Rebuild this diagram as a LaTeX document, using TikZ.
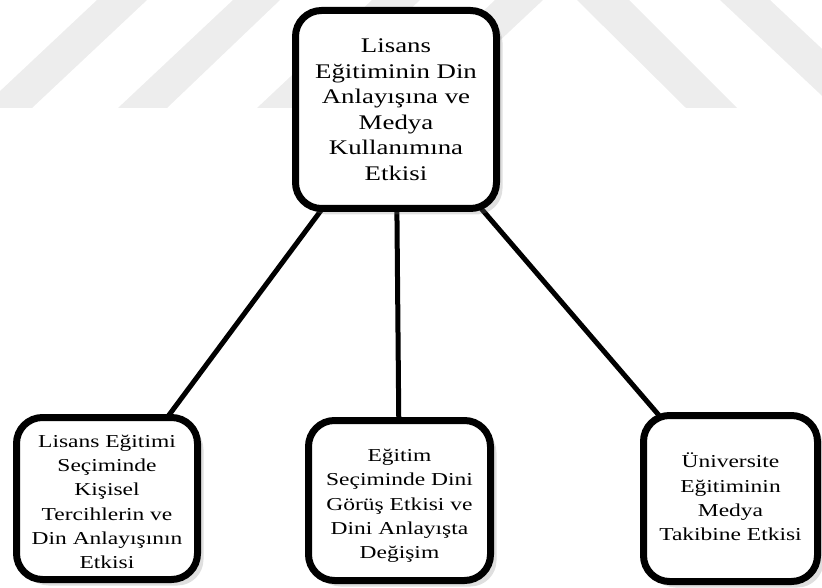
\documentclass[tikz,border=0pt]{standalone}
\usepackage{fontspec}
\newfontfamily\boxfont[FakeStretch=1.29]{Liberation Serif}
\usetikzlibrary{shadows,backgrounds}
\begin{document}
\begin{tikzpicture}[x=1pt,y=-1pt,
  box/.style={draw=black, line width=7pt, rounded corners=26pt, fill=white,
    inner sep=0pt, align=center,
    drop shadow={shadow xshift=6pt, shadow yshift=-6pt, opacity=0.25}},
  topfont/.style={font=\boxfont\fontsize{20.8}{25.5}\selectfont},
  subfont/.style={font=\boxfont\fontsize{18.2}{24.3}\selectfont},
  link/.style={line width=5pt, draw=black},
  wm/.style={fill=black!7, draw=none}]
\useasboundingbox (0,0) rectangle (822,588);

\node[box, topfont, minimum width=201pt, minimum height=198pt] (top) at (396,109.5)
  {Lisans\\Eğitiminin Din\\Anlayışına ve\\Medya\\Kullanımına\\Etkisi};
\node[box, subfont, minimum width=181pt, minimum height=162pt] (bl) at (107,498.5)
  {\rule{0pt}{19.2pt}Lisans Eğitimi\\Seçiminde\\Kişisel\\Tercihlerin ve\\Din Anlayışının\\Etkisi};
\node[box, subfont, minimum width=182pt, minimum height=160pt] (bm) at (399.5,500.5)
  {\rule{0pt}{23pt}Eğitim\\Seçiminde Dini\\Görüş Etkisi ve\\Dini Anlayışta\\Değişim};
\node[box, subfont, minimum width=174pt, minimum height=166pt] (br) at (730.5,498.5)
  {Üniversite\\Eğitiminin\\Medya\\Takibine Etkisi\rule[-3pt]{0pt}{3pt}};

\begin{scope}[on background layer]
  \clip (0,0) rectangle (822,588);
  \fill[wm] (-18,108) -- (32,108) -- (147,0) -- (97,0) -- cycle;
  \fill[wm] (118,108) -- (167,108) -- (280,0) -- (233,0) -- cycle;
  \fill[wm] (257,108) -- (305,108) -- (420,0) -- (372,0) -- cycle;
  \fill[wm] (380,108) -- (428,108) -- (543,0) -- (495,0) -- cycle;
  \fill[wm] (577,0) -- (629,0) -- (737,108) -- (686,108) -- cycle;
  \fill[wm] (720,0) -- (770,0) -- (885,108) -- (835,108) -- cycle;
  \draw[link] (top.center) -- (bl.center);
  \draw[link] (top.center) -- (bm.center);
  \draw[link] (top.center) -- (br.center);
\end{scope}
\end{tikzpicture}
\end{document}
